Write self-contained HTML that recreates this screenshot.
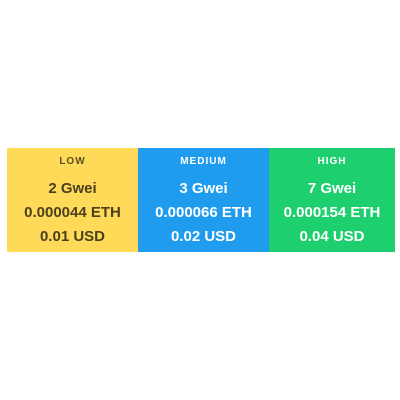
<!DOCTYPE html>
<html><head><style>
body{margin:0;width:400px;height:400px;background:#fff;font-family:"Liberation Sans",sans-serif;position:relative}
.box{position:absolute;top:148px;height:104px;text-align:center}
.t{position:absolute;left:0;right:0;top:8px;font-size:10px;letter-spacing:1px;font-weight:bold}
.l{position:absolute;left:0;right:0;font-size:15px;font-weight:bold}
</style></head><body>
<div class="box" style="left:7px;width:131px;background:#FFDA59;color:#4a401c">
<div class="t" style="opacity:.9">LOW</div>
<div class="l" style="top:32px">2 Gwei</div>
<div class="l" style="top:56px">0.000044 ETH</div>
<div class="l" style="top:80px">0.01 USD</div>
</div>
<div class="box" style="left:138px;width:131px;background:#1F9CEE;color:#fff">
<div class="t">MEDIUM</div>
<div class="l" style="top:32px">3 Gwei</div>
<div class="l" style="top:56px">0.000066 ETH</div>
<div class="l" style="top:80px">0.02 USD</div>
</div>
<div class="box" style="left:269px;width:126px;background:#1ECF70;color:#fff">
<div class="t">HIGH</div>
<div class="l" style="top:32px">7 Gwei</div>
<div class="l" style="top:56px">0.000154 ETH</div>
<div class="l" style="top:80px">0.04 USD</div>
</div>
</body></html>
